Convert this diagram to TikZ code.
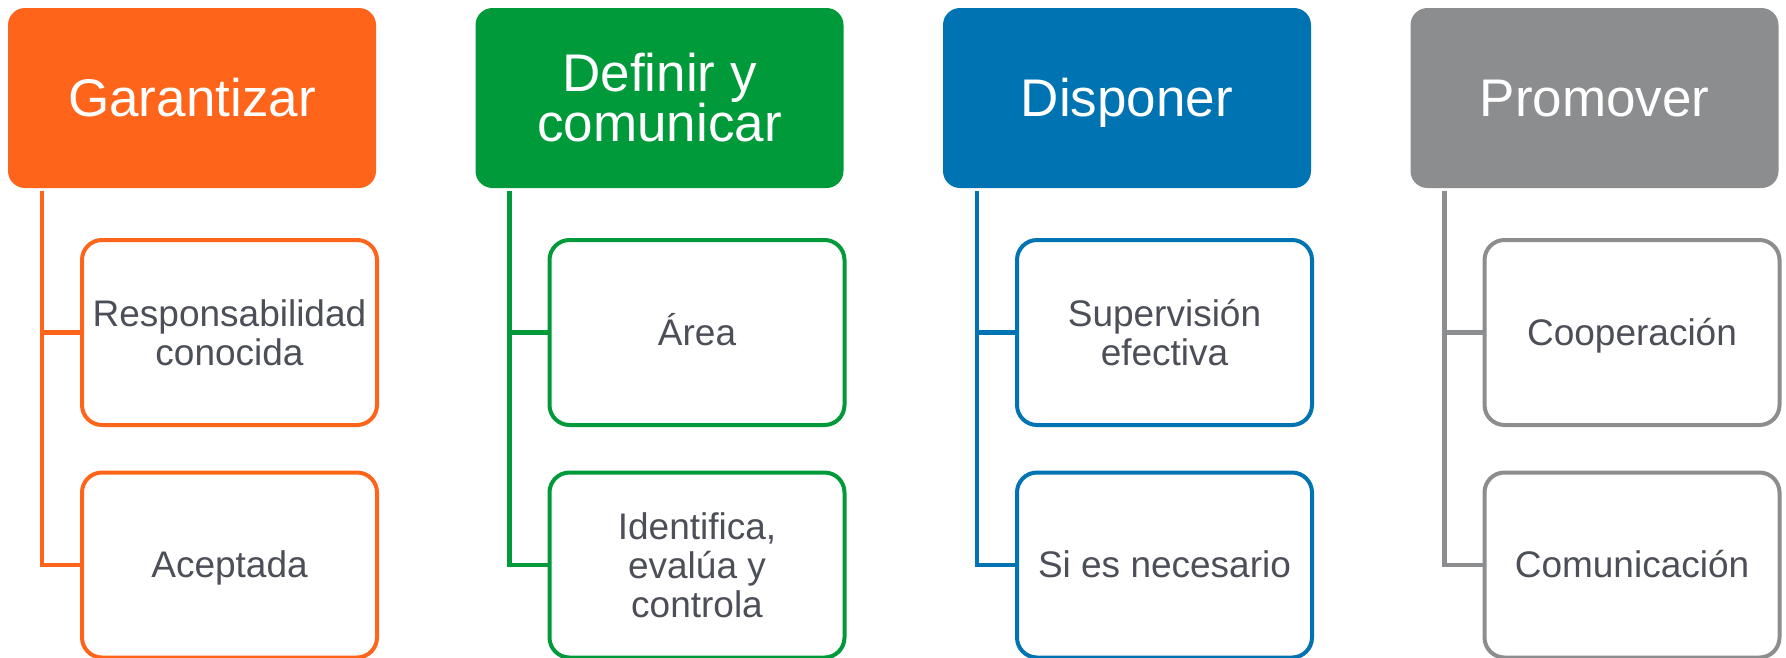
\documentclass[tikz,border=0pt]{standalone}
\usepackage{fontspec}
\setmainfont{Liberation Sans}
\definecolor{corange}{RGB}{255,101,26}
\definecolor{cgreen}{RGB}{0,154,58}
\definecolor{cblue}{RGB}{0,115,178}
\definecolor{cgray}{RGB}{140,141,143}
\definecolor{ctext}{RGB}{77,79,88}
\tikzset{
  hdr/.style={fill=#1, draw=none, rounded corners=17pt, minimum width=368pt, minimum height=180pt,
    text=white, align=center, inner sep=0pt, font=\fontsize{53}{50}\selectfont},
  child/.style={draw=#1, line width=4pt, fill=white, rounded corners=20pt, minimum width=295pt, minimum height=185pt,
    text=ctext, align=center, inner sep=0pt, font=\fontsize{37}{39}\selectfont},
  onechild/.style={text height=33.5pt, text depth=7.8pt},
  onehdr/.style={text height=48pt, text depth=11.2pt},
  conn/.style={draw=#1, line width=4.5pt}
}
\begin{document}
\begin{tikzpicture}[x=1pt,y=-1pt]
\useasboundingbox (0,0) rectangle (1786,657);
% column 1
\node[hdr=corange, onehdr] (h1) at (192,98) {Garantizar};
\node[child=corange] (c11) at (229.5,332.5) {Responsabilidad\\conocida};
\node[child=corange, onechild] (c12) at (229.5,565) {Aceptada};
% column 2
\node[hdr=cgreen] (h2) at (659.5,98) {Definir y\\comunicar};
\node[child=cgreen, onechild] (c21) at (697,332.5) {Área};
\node[child=cgreen] (c22) at (697,565) {Identifica,\\evalúa y\\controla};
% column 3
\node[hdr=cblue, onehdr] (h3) at (1127,98) {Disponer};
\node[child=cblue] (c31) at (1164.5,332.5) {Supervisión\\efectiva};
\node[child=cblue, onechild] (c32) at (1164.5,565) {Si es necesario};
% column 4
\node[hdr=cgray, onehdr] (h4) at (1594.5,98) {Promover};
\node[child=cgray, onechild] (c41) at (1632,332.5) {Cooperación};
\node[child=cgray, onechild] (c42) at (1632,565) {Comunicación};
% connectors
\foreach \i/\c in {1/corange,2/cgreen,3/cblue,4/cgray}{
  \coordinate (t\i) at ([xshift=34pt,yshift=-3pt]h\i.south west);
  \draw[conn=\c] (t\i) |- (c\i2.west);
  \draw[conn=\c] (t\i |- c\i1.west) -- (c\i1.west);
}
\end{tikzpicture}
\end{document}
